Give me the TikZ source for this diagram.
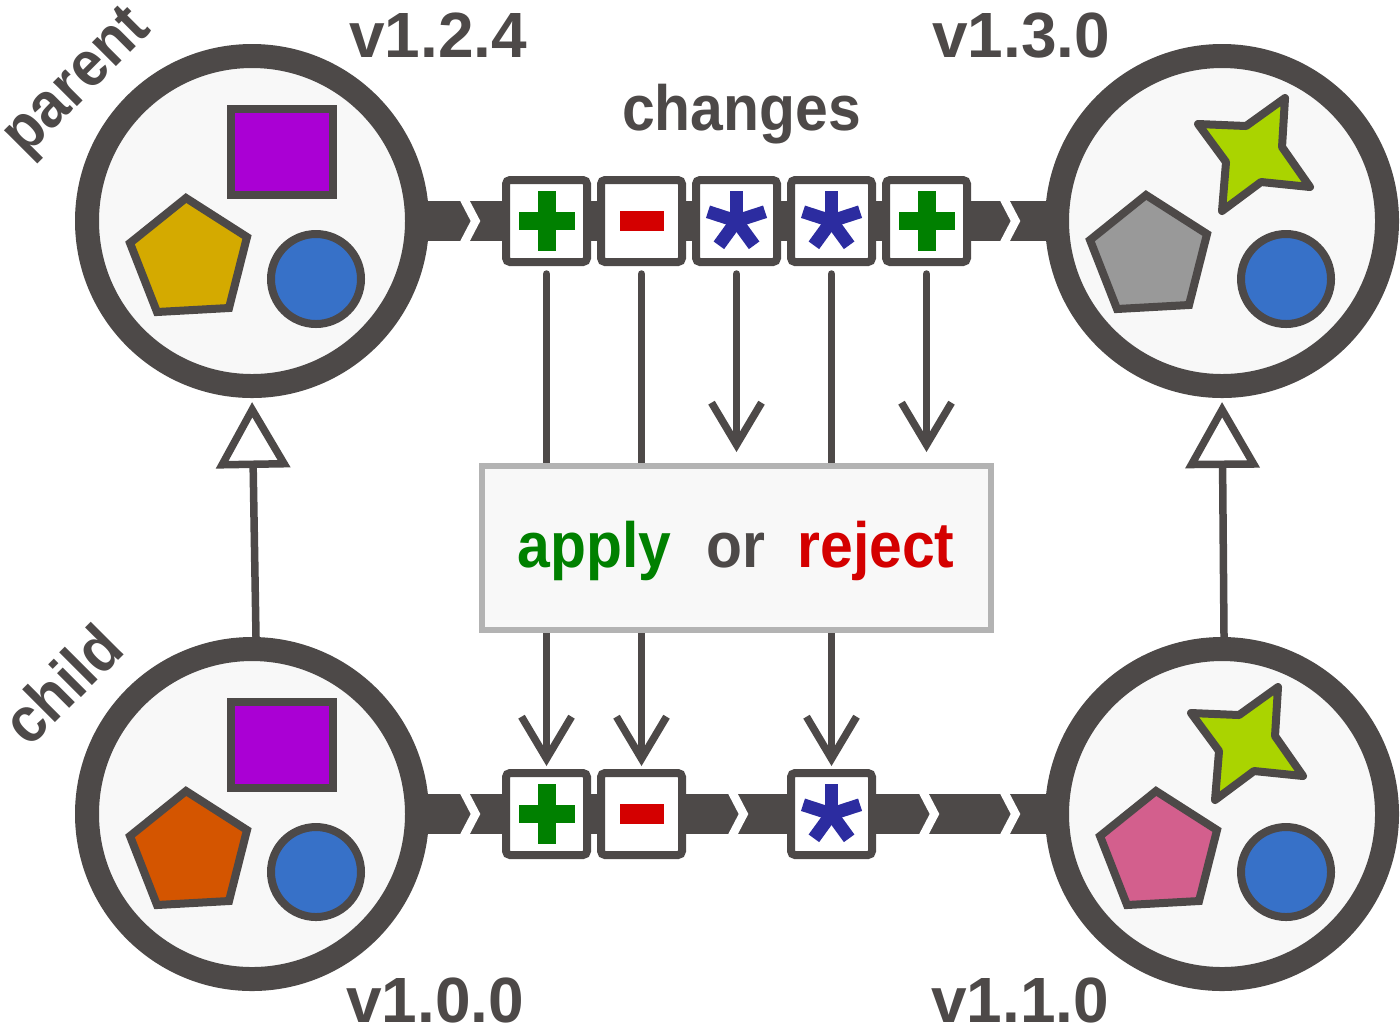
\documentclass[tikz,border=0pt]{standalone}
\usepackage{fontspec}
\setmainfont{Liberation Sans}
\newfontfamily\narrowf{Liberation Sans}[FakeStretch=0.92]
\usetikzlibrary{arrows.meta,backgrounds}
\definecolor{dark}{HTML}{4D4948}
\definecolor{bgc}{HTML}{F8F8F8}
\definecolor{purp}{HTML}{AA00D4}
\definecolor{gold}{HTML}{D4AA00}
\definecolor{orng}{HTML}{D45500}
\definecolor{pink}{HTML}{D35F8D}
\definecolor{pgray}{HTML}{999999}
\definecolor{lime}{HTML}{AAD400}
\definecolor{dotblue}{HTML}{3771C8}
\definecolor{pgreen}{HTML}{008000}
\definecolor{pred}{HTML}{D40000}
\definecolor{astc}{HTML}{2C2CA0}
\definecolor{lgray}{HTML}{B3B3B3}
\tikzset{
  ring/.style={circle, draw=dark, line width=2.4mm, fill=bgc, minimum size=33mm, inner sep=0pt},
  shp/.style={draw=dark, line width=0.8mm},
  chgbox/.style={rectangle, draw=dark, line width=0.8mm, fill=white, minimum width=8.1mm, minimum height=8.2mm, rounded corners=0.4mm, inner sep=0pt},
  bar/.style={draw=dark, line width=4mm},
  notch/.style={draw=white, line width=0.85mm},
  conn/.style={draw=dark, line width=0.75mm},
  darr/.style={conn, -{Straight Barb[length=4.2mm,width=5mm]}},
  inh/.style={draw=dark, line width=0.75mm, -{Triangle[fill=white,length=6.6mm,width=7.3mm]}},
  decision/.style={rectangle, draw=lgray, line width=0.6mm, fill=bgc, minimum width=50.9mm, minimum height=16.4mm},
  vlabel/.style={text=dark, font=\bfseries\fontsize{18.2}{20}\selectfont, anchor=base, inner sep=0pt},
  word/.style={font=\narrowf\bfseries\fontsize{18.2}{20}\selectfont, anchor=base, inner sep=0pt},
  pics/pent/.style={code={\draw[shp, fill=#1] (-66,-23) -- (-5,16) -- (-23,87) -- (-95,91) -- (-122,22) -- cycle;}},
  pics/sq/.style={code={\draw[shp, fill=purp] (-21,-112) rectangle (81,-26);}},
  pics/dot/.style={code={\draw[shp, fill=dotblue] (64,58) circle[radius=45];}},
  pics/star/.style={code={\draw[shp, fill=lime, line join=round] (63,-123) -- (60,-74) -- (88,-34) -- (39,-39) -- (0,-10) -- (4,-59) -- (-24,-97) -- (24,-95) -- cycle;}},
  pics/plus/.style={code={\fill[pgreen] (-9,-30) rectangle (9,30); \fill[pgreen] (-28,-9) rectangle (28,9);}},
  pics/minus/.style={code={\fill[pred] (-22,-10) rectangle (22,10);}},
  pics/ast/.style={code={\foreach \k in {0,...,4}{\fill[astc, rotate=72*\k] (-6.5,2) rectangle (6.5,-30);}}},
}
\begin{document}
\begin{tikzpicture}[x=0.1mm, y=-0.1mm]
\useasboundingbox (0,0) rectangle (1400,1023);

% version circles
\node[ring] (tl) at (252,221) {};
\node[ring] (tr) at (1222,221) {};
\node[ring] (bl) at (252,814) {};
\node[ring] (br) at (1222,814) {};

\pic at (tl.center) {sq};
\pic at (tl.center) {pent=gold};
\pic at (tl.center) {dot};

\pic at ([shift={(-10,-3)}]tr.center) {pent=pgray};
\pic at (tr.center) {star};
\pic at (tr.center) {dot};

\pic at (bl.center) {sq};
\pic at (bl.center) {pent=orng};
\pic at (bl.center) {dot};

\pic at (br.center) {pent=pink};
\pic at ([shift={(-7,-4)}]br.center) {star};
\pic at (br.center) {dot};

% change boxes, top
\node[chgbox] (t1) at (546.5,221) {}; \pic at (t1.center) {plus};
\node[chgbox] (t2) at (641.5,221) {}; \pic at (t2.center) {minus};
\node[chgbox] (t3) at (736.5,221) {}; \pic at (t3.center) {ast};
\node[chgbox] (t4) at (831.5,221) {}; \pic at (t4.center) {ast};
\node[chgbox] (t5) at (926.5,221) {}; \pic at (t5.center) {plus};

% change boxes, bottom
\node[chgbox] (b1) at (546.5,814) {}; \pic at (b1.center) {plus};
\node[chgbox] (b2) at (641.5,814) {}; \pic at (b2.center) {minus};
\node[chgbox] (b3) at (831.5,814) {}; \pic at (b3.center) {ast};

% decision box
\node[decision] (ap) at (736.5,548) {};
\node[word, text=pgreen] (wapply) at (594.5,567) {apply};
\node[word, text=dark] (wor) at (735.5,567) {or};
\node[word, text=pred] (wreject) at (876,567) {reject};

% labels
\node[vlabel] (l124) at (438,57) {v1.2.4};
\node[vlabel] (l130) at (1021,57) {v1.3.0};
\node[vlabel] (l100) at (435,1022) {v1.0.0};
\node[vlabel] (l110) at (1020,1022) {v1.1.0};
\node[word, text=dark] (chg) at (741.5,130) {changes};
\node[word, text=dark, rotate=45, anchor=center] (par) at (79,84) {parent};
\node[word, text=dark, rotate=45, anchor=center] (chi) at (62,684) {child};

% inheritance arrows
\draw[inh, shorten >=0.4mm] ([xshift=0.4mm]bl.north) -- (tl.south);
\draw[inh, shorten >=0.4mm] ([xshift=0.2mm]br.north) -- (tr.south);

\begin{scope}[on background layer]
  \draw[bar] (tl.center) -- (tr.center);
  \draw[bar] (bl.center) -- (br.center);
  \foreach \x in {465,1005}
    \draw[notch] (\x-1,199) -- (\x+10.5,221) -- (\x-1,243);
  \foreach \x in {465,733,924,1005}
    \draw[notch] (\x-1,792) -- (\x+10.5,814) -- (\x-1,836);
  % connectors through the decision box
  \draw[conn, line cap=round, shorten <=0.8mm] (t1.south) -- (t1.south |- ap.north);
  \draw[conn, line cap=round, shorten <=0.8mm] (t2.south) -- (t2.south |- ap.north);
  \draw[darr, line cap=round, shorten <=0.8mm, shorten >=1.1mm] (t3.south) -- (t3.south |- ap.north);
  \draw[conn, line cap=round, shorten <=0.8mm] (t4.south) -- (t4.south |- ap.north);
  \draw[darr, line cap=round, shorten <=0.8mm, shorten >=1.1mm] (t5.south) -- (t5.south |- ap.north);
  \draw[darr, shorten >=0.3mm] (b1.north |- ap.south) -- (b1.north);
  \draw[darr, shorten >=0.3mm] (b2.north |- ap.south) -- (b2.north);
  \draw[darr, shorten >=0.3mm] (b3.north |- ap.south) -- (b3.north);
\end{scope}
\end{tikzpicture}
\end{document}
